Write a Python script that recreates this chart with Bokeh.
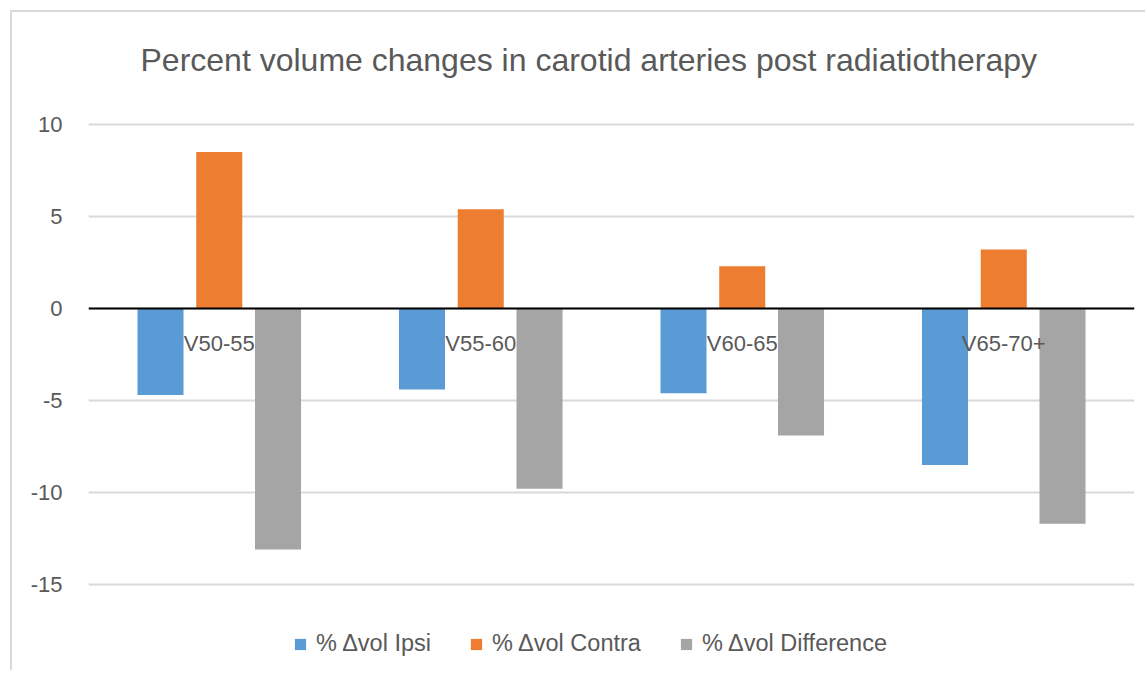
from bokeh.plotting import figure
from bokeh.models import (ColumnDataSource, FixedTicker, Legend, LegendItem,
                          Span, Title, PrintfTickFormatter)
from bokeh.transform import dodge
from bokeh.core.properties import value
from bokeh.embed import file_html
from bokeh.resources import INLINE

categories = ["V50-55", "V55-60", "V60-65", "V65-70+"]
ipsi = [-4.7, -4.4, -4.6, -8.5]
contra = [8.5, 5.4, 2.3, 3.2]
difference = [-13.1, -9.8, -6.9, -11.7]
series_names = ["% \u0394vol Ipsi", "% \u0394vol Contra", "% \u0394vol Difference"]
y_ticks = [-15, -10, -5, 0, 5, 10]
title_text = "Percent volume changes in carotid arteries post radiatiotherapy"

colors = ["#5B9BD5", "#ED7D31", "#A5A5A5"]
FONT = "Liberation Sans"
TXT = "#595959"

src = ColumnDataSource(dict(cat=categories, ipsi=ipsi, contra=contra, diff=difference,
                            zero=[0] * len(categories)))

# frame extends above 10 and below -15 so that the legend can sit inside it
p = figure(x_range=categories, y_range=(-19.7826, 11.7391), width=1135, height=660,
           output_backend="svg", toolbar_location=None, title=None,
           min_border_left=76, min_border_right=13, min_border_top=80,
           min_border_bottom=0, x_axis_location=None)
p.styles = {"margin-top": "10px", "margin-left": "10px",
            "border-top": "2px solid #D9D9D9", "border-left": "2px solid #D9D9D9"}

t = Title(text=title_text, text_font=FONT, text_font_size="32px",
          text_font_style="normal", text_color=TXT, align="left", offset=52,
          standoff=30, vertical_align="bottom")
p.add_layout(t, "above")

bw = 0.176
off = 0.2247
r1 = p.vbar(x=dodge("cat", -off, range=p.x_range), top="ipsi", bottom=0, width=bw,
            source=src, fill_color=colors[0], line_color=None)
r2 = p.vbar(x=dodge("cat", 0, range=p.x_range), top="contra", bottom=0, width=bw,
            source=src, fill_color=colors[1], line_color=None)
r3 = p.vbar(x=dodge("cat", off, range=p.x_range), top="diff", bottom=0, width=bw,
            source=src, fill_color=colors[2], line_color=None)

# zero line and category labels next to it
p.add_layout(Span(location=0, dimension="width", line_color="black", line_width=2))
p.text(x="cat", y="zero", text="cat", source=src, text_font=value(FONT),
       text_font_size="22px", text_color=TXT, text_align="center",
       text_baseline="middle", y_offset=35)

p.yaxis.ticker = FixedTicker(ticks=y_ticks)
p.yaxis.formatter = PrintfTickFormatter(format="%d")
p.yaxis.axis_line_color = None
p.yaxis.major_tick_line_color = None
p.yaxis.major_tick_out = 0
p.yaxis.major_tick_in = 0
p.yaxis.minor_tick_line_color = None
p.yaxis.major_label_text_font = FONT
p.yaxis.major_label_text_font_size = "22px"
p.yaxis.major_label_text_color = TXT
p.yaxis.major_label_standoff = 26

p.xgrid.grid_line_color = None
p.ygrid.ticker = FixedTicker(ticks=y_ticks)
p.ygrid.grid_line_color = "#D9D9D9"
p.ygrid.grid_line_width = 2
p.outline_line_color = None

legend = Legend(items=[LegendItem(label=series_names[0], renderers=[r1]),
                       LegendItem(label=series_names[1], renderers=[r2]),
                       LegendItem(label=series_names[2], renderers=[r3])],
                orientation="horizontal", location=(205, 15))
legend.label_text_font = FONT
legend.label_text_font_size = "23.5px"
legend.label_text_color = TXT
legend.glyph_width = 14
legend.glyph_height = 14
legend.label_standoff = 9
legend.spacing = 38
legend.padding = 0
legend.margin = 0
legend.border_line_color = None
legend.background_fill_alpha = 0
p.add_layout(legend)

open("out.html", "w").write(file_html(p, INLINE))
